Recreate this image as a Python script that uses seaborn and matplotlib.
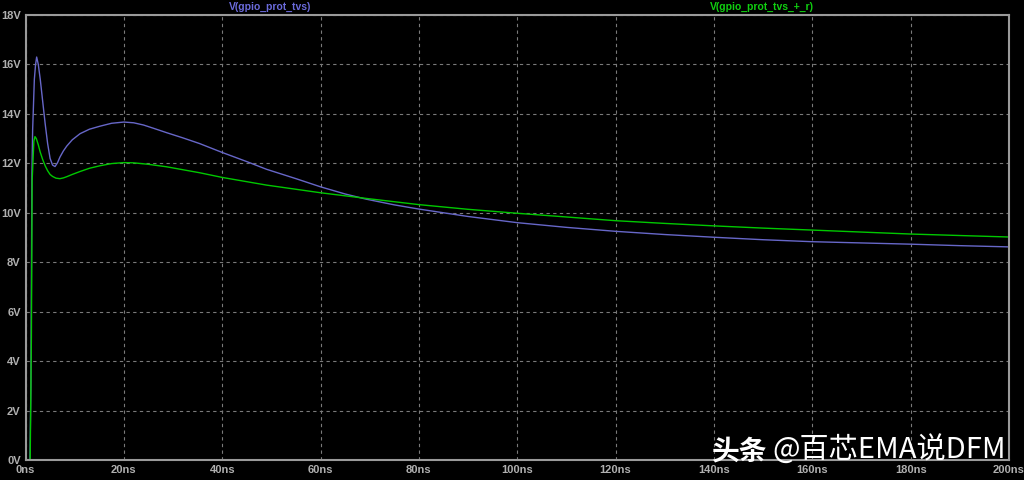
import numpy as np
import pandas as pd
import matplotlib
matplotlib.use("Agg")
import matplotlib.pyplot as plt
import seaborn as sns

# transient readings (time in ns, volts)
t_tvs = [0, 0.9, 1.1, 1.3, 1.45, 1.8, 2.05, 2.27, 2.6, 3.0, 3.5, 4.0, 4.5, 5.0,
         5.5, 6.0, 6.5, 7.0, 7.7, 8.4, 9.5, 11.1, 13, 15.1, 17.5, 20, 22, 24,
         26, 28.7, 32, 35.4, 40, 45, 49, 55, 60, 65, 69.3, 75, 80, 90, 100,
         110, 120, 130, 140, 150, 160, 170, 180, 190, 200]
v_tvs = [0, 0, 3.0, 11.5, 13.35, 15.4, 16.0, 16.3, 16.0, 15.4, 14.5, 13.6,
         12.8, 12.2, 11.93, 11.87, 12.02, 12.25, 12.5, 12.7, 12.95, 13.2,
         13.38, 13.5, 13.62, 13.67, 13.64, 13.55, 13.42, 13.24, 13.03, 12.8,
         12.44, 12.07, 11.76, 11.38, 11.05, 10.76, 10.55, 10.32, 10.15, 9.85,
         9.6, 9.41, 9.25, 9.12, 9.01, 8.91, 8.83, 8.78, 8.73, 8.67, 8.62]

t_tvs_r = [0, 0.95, 1.2, 1.35, 1.7, 1.93, 2.2, 2.6, 3.0, 3.5, 4.0, 4.5, 5.0,
           5.5, 6.2, 7.0, 7.7, 8.4, 9.5, 11.1, 13, 15.1, 17.5, 20, 22, 25,
           28.7, 35.4, 40, 49, 60, 69.3, 80, 84.2, 90, 100, 110, 120, 130, 140,
           150, 160, 170, 180, 190, 200]
v_tvs_r = [0, 0, 5.0, 11.3, 12.9, 13.08, 13.0, 12.75, 12.45, 12.15, 11.9,
           11.7, 11.55, 11.47, 11.4, 11.38, 11.41, 11.46, 11.55, 11.67, 11.8,
           11.9, 11.99, 12.03, 12.02, 11.96, 11.86, 11.62, 11.43, 11.12, 10.81,
           10.58, 10.33, 10.25, 10.14, 9.98, 9.83, 9.68, 9.57, 9.47, 9.38, 9.30,
           9.22, 9.14, 9.08, 9.02]

x_ticks = list(range(0, 201, 20))
y_ticks = list(range(0, 19, 2))

df = pd.concat([
    pd.DataFrame({"t": t_tvs, "v": v_tvs, "trace": "V(gpio_prot_tvs)"}),
    pd.DataFrame({"t": t_tvs_r, "v": v_tvs_r, "trace": "V(gpio_prot_tvs_+_r)"}),
], ignore_index=True)

sns.set_style("dark", {"axes.facecolor": "black", "figure.facecolor": "black"})
plt.rcParams["font.family"] = ["Liberation Sans", "DejaVu Sans"]

blue = "#6767c8"
green = "#00c800"

fig = plt.figure(figsize=(10.24, 4.8), dpi=100)
ax = fig.add_axes([25.5 / 1024, 20 / 480, (1009 - 25.5) / 1024, 445 / 480])
sns.lineplot(data=df, x="t", y="v", hue="trace", sort=False,
             palette={"V(gpio_prot_tvs)": blue, "V(gpio_prot_tvs_+_r)": green},
             linewidth=1.0, legend=False, ax=ax)

ax.set_xlim(0, 200)
ax.set_ylim(0, 18)
ax.set_xticks(x_ticks)
ax.set_yticks(y_ticks)
ax.set_xticklabels([f"{v}ns" for v in x_ticks])
ax.set_yticklabels([f"{v}V" for v in y_ticks])
ax.set_xlabel("")
ax.set_ylabel("")
ax.grid(True, color="#7a7a7a", linestyle=(0, (3, 3)), linewidth=0.8)
for s in ax.spines.values():
    s.set_color("#9a9a9a")
    s.set_linewidth(1.5)
    s.set_visible(True)
ax.tick_params(axis="both", colors="#9a9a9a", labelcolor="#b0b0b0",
               labelsize=8, length=3, width=1, direction="out", pad=0.5)
for lbl in ax.get_xticklabels() + ax.get_yticklabels():
    lbl.set_fontweight("bold")

fig.text(270 / 1024, 1 - 7 / 480, "V(gpio_prot_tvs)", color="#6b6bdc",
         fontsize=7.5, ha="center", va="center", fontweight="bold")
fig.text(762 / 1024, 1 - 7 / 480, "V(gpio_prot_tvs_+_r)", color="#10d010",
         fontsize=7.5, ha="center", va="center", fontweight="bold")
fig.text(712 / 1024, 1 - 451 / 480, "头条", color="white",
         fontsize=20, ha="left", va="center", fontweight="bold",
         family=["Noto Sans CJK SC", "DejaVu Sans"])
fig.text(772 / 1024, 1 - 451 / 480, "@百芯EMA说DFM", color="white",
         fontsize=21, ha="left", va="center",
         family=["Noto Sans CJK SC", "DejaVu Sans"])

fig.savefig("out.png", dpi=100, facecolor="black")
